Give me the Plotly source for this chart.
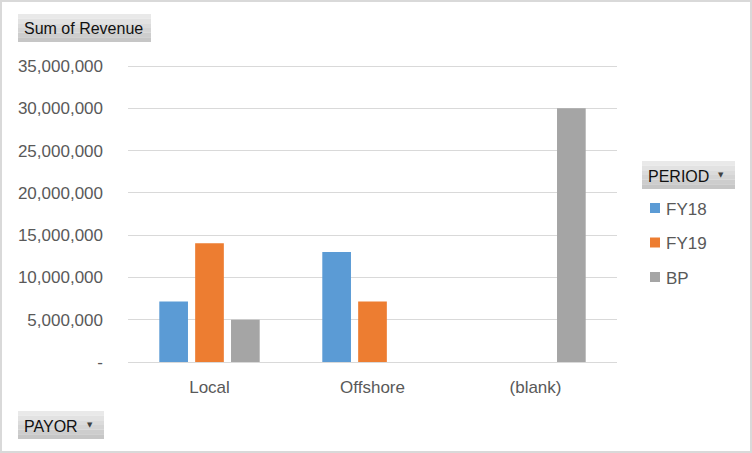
import plotly.graph_objects as go

payors = ["Local", "Offshore", "(blank)"]
periods = ["FY18", "FY19", "BP"]
fy18 = [7150000, 13000000, None]
fy19 = [14050000, 7150000, None]
bp = [5000000, None, 30000000]
y_ticks = [0, 5000000, 10000000, 15000000, 20000000, 25000000, 30000000, 35000000]
y_tick_labels = ["-"] + [f"{v:,}" for v in y_ticks[1:]]

W, H = 752, 453
L, R, T, B = 128, 135, 61, 91
FONT = "Liberation Sans"
GREY_TEXT = "#595959"
GRID = "#d9d9d9"
COLORS = ["#5b9bd5", "#ed7d31", "#a5a5a5"]


def px(x, y):
    """pixel position -> paper coords"""
    return (x - L) / (W - L - R), 1 - (y - T) / (H - T - B)


def rect(shapes, x0, y0, x1, y1, **kw):
    a = px(x0, y0)
    b = px(x1, y1)
    shapes.append(dict(type="rect", xref="paper", yref="paper", x0=a[0], x1=b[0], y0=b[1], y1=a[1], **kw))


def label(annotations, x, y, text, size=17, color=GREY_TEXT, anchor="left", family=FONT):
    tx, ty = px(x, y)
    annotations.append(dict(text=text, xref="paper", yref="paper", x=tx, y=ty, xanchor=anchor, yanchor="middle",
                            showarrow=False, font={"family": family, "size": size, "color": color}))


def button(shapes, annotations, x0, y0, x1, y1, text, arrow=False):
    # fake the excel gradient with a few bands
    bands = ["#e9e9e9", "#e2e2e2", "#dbdbdb", "#d4d4d4", "#cdcdcd", "#c6c6c6"]
    step = (y1 - y0) / len(bands)
    for i, col in enumerate(bands):
        rect(shapes, x0, y0 + i * step, x1, y0 + (i + 1) * step, fillcolor=col, line={"width": 0}, layer="above")
    label(annotations, x0 + 4, (y0 + y1) / 2 + 1, text, size=16, color="#111111")
    if arrow:
        label(annotations, x1 - 14, (y0 + y1) / 2, "▼", size=7, color="#404040", anchor="center", family="DejaVu Sans")


fig = go.Figure()
for name, vals, col in zip(periods, [fy18, fy19, bp], COLORS):
    fig.add_trace(go.Bar(x=payors, y=vals, name=name, marker={"color": col, "line": {"width": 0}}))

shapes = []
annotations = []
# outer frame
rect(shapes, 1, 1, W - 1, H - 1, line={"color": "#d9d9d9", "width": 2}, fillcolor="rgba(0,0,0,0)")
button(shapes, annotations, 18, 14, 151, 42, "Sum of Revenue")
button(shapes, annotations, 642, 161, 735, 189, "PERIOD", arrow=True)
button(shapes, annotations, 18, 411, 104, 439, "PAYOR", arrow=True)

# legend drawn by hand, excel style
for i, (name, col) in enumerate(zip(periods, COLORS)):
    yc = 208 + i * 34.5
    rect(shapes, 650, yc - 5, 660, yc + 5, fillcolor=col, line={"width": 0})
    label(annotations, 664, yc + 1, name)

fig.update_layout(
    width=W,
    height=H,
    margin={"l": L, "r": R, "t": T, "b": B},
    paper_bgcolor="white",
    plot_bgcolor="white",
    barmode="group",
    bargap=0.34,
    bargroupgap=0.2,
    font={"family": FONT, "size": 17, "color": GREY_TEXT},
    showlegend=False,
    xaxis={"showgrid": False, "showline": True, "linecolor": GRID, "linewidth": 1, "ticks": "",
           "ticklabelstandoff": 10, "tickfont": {"size": 17, "color": GREY_TEXT}},
    # a bit of headroom so the 35M gridline is drawn
    yaxis={"range": [0, 35600000], "tickvals": y_ticks, "ticktext": y_tick_labels, "showgrid": True,
           "gridcolor": GRID, "gridwidth": 1, "zeroline": False, "showline": False, "ticks": "",
           "ticklabelstandoff": 24, "tickfont": {"size": 17, "color": GREY_TEXT}},
    shapes=shapes,
    annotations=annotations,
)
fig.write_html("out.html", config={"displayModeBar": False}, post_script="document.body.style.margin='0';")
